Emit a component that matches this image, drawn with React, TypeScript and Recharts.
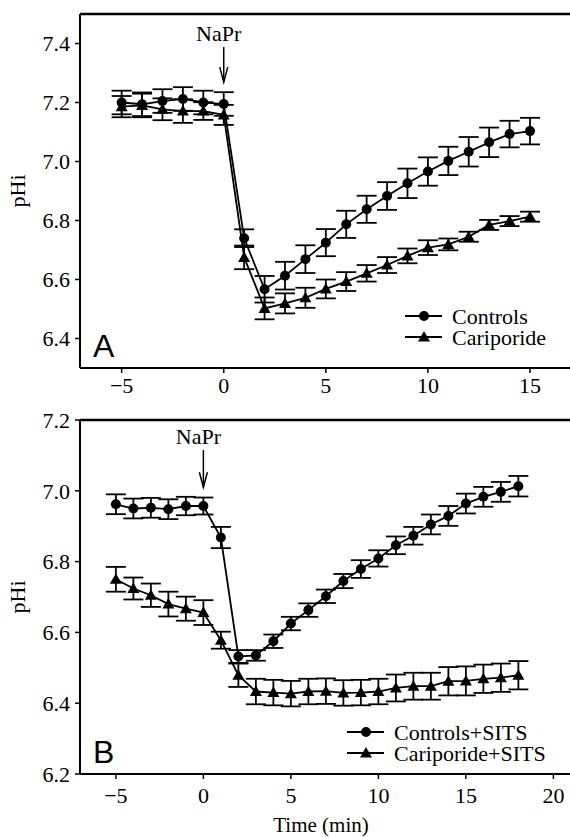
import { LineChart, Line, XAxis, YAxis, ErrorBar, ReferenceLine, Legend } from "recharts";

const FONT = "'Liberation Serif', 'Times New Roman', serif";

// Panel A
const timeA = [-5, -4, -3, -2, -1, 0, 1, 2, 3, 4, 5, 6, 7, 8, 9, 10, 11, 12, 13, 14, 15];
const controlsA = [7.2, 7.194, 7.205, 7.212, 7.2, 7.195, 6.74, 6.567, 6.613, 6.669, 6.725, 6.787, 6.838, 6.883, 6.926, 6.966, 7.002, 7.033, 7.065, 7.093, 7.103];
const controlsAErr = [0.04, 0.04, 0.04, 0.04, 0.04, 0.04, 0.03, 0.045, 0.047, 0.047, 0.046, 0.046, 0.046, 0.047, 0.05, 0.048, 0.048, 0.05, 0.05, 0.045, 0.045];
const cariporideA = [7.186, 7.19, 7.177, 7.171, 7.171, 7.158, 6.675, 6.502, 6.519, 6.538, 6.568, 6.593, 6.621, 6.649, 6.68, 6.708, 6.719, 6.745, 6.785, 6.798, 6.813];
const cariporideAErr = [0.036, 0.04, 0.037, 0.04, 0.03, 0.034, 0.04, 0.037, 0.034, 0.034, 0.032, 0.032, 0.028, 0.027, 0.025, 0.025, 0.02, 0.017, 0.017, 0.017, 0.017];
const xTicksA = [-5, 0, 5, 10, 15];
const yTicksA = [6.4, 6.6, 6.8, 7.0, 7.2, 7.4];

// Panel B
const timeB = [-5, -4, -3, -2, -1, 0, 1, 2, 3, 4, 5, 6, 7, 8, 9, 10, 11, 12, 13, 14, 15, 16, 17, 18];
const controlsB = [6.962, 6.95, 6.952, 6.948, 6.957, 6.957, 6.868, 6.532, 6.535, 6.575, 6.625, 6.663, 6.702, 6.745, 6.779, 6.809, 6.846, 6.873, 6.905, 6.929, 6.964, 6.983, 6.997, 7.013];
const controlsBErr = [0.028, 0.028, 0.028, 0.028, 0.026, 0.024, 0.03, 0.018, 0.015, 0.019, 0.019, 0.019, 0.019, 0.02, 0.025, 0.023, 0.025, 0.025, 0.028, 0.028, 0.028, 0.028, 0.028, 0.029];
const cariporideB = [6.75, 6.724, 6.705, 6.68, 6.667, 6.656, 6.578, 6.479, 6.433, 6.43, 6.427, 6.433, 6.434, 6.429, 6.43, 6.433, 6.443, 6.448, 6.448, 6.462, 6.463, 6.469, 6.472, 6.479];
const cariporideBErr = [0.035, 0.031, 0.033, 0.035, 0.034, 0.035, 0.024, 0.033, 0.036, 0.036, 0.036, 0.036, 0.036, 0.036, 0.036, 0.036, 0.038, 0.038, 0.038, 0.04, 0.041, 0.04, 0.04, 0.04];
const xTicksB = [-5, 0, 5, 10, 15, 20];
const yTicksB = [6.2, 6.4, 6.6, 6.8, 7.0, 7.2];

const dataA = timeA.map((t, i) => ({
  t,
  ctrl: controlsA[i],
  ctrlErr: controlsAErr[i],
  cari: cariporideA[i],
  cariErr: cariporideAErr[i],
}));

const dataB = timeB.map((t, i) => ({
  t,
  ctrl: controlsB[i],
  ctrlErr: controlsBErr[i],
  cari: cariporideB[i],
  cariErr: cariporideBErr[i],
}));

const fmtX = (v: number) => (v < 0 ? `\u2212${Math.abs(v)}` : `${v}`);
const fmtY = (v: number) => v.toFixed(1);

const tickStyle = { fill: "#000", fontSize: 22, fontFamily: FONT };

const triPath = (cx: number, cy: number) =>
  `M${cx},${cy - 6}L${cx + 6},${cy + 4.5}L${cx - 6},${cy + 4.5}Z`;

const TriangleDot = (props: any) => {
  const { cx, cy, index } = props;
  if (cx == null || cy == null) return <g key={index} />;
  return <path key={index} d={triPath(cx, cy)} fill="#000" />;
};

const CircleDot = (props: any) => {
  const { cx, cy, index } = props;
  if (cx == null || cy == null) return <g key={index} />;
  return <circle key={index} cx={cx} cy={cy} r={5} fill="#000" />;
};

// NaPr arrow drawn on a vertical reference segment
const arrowShape = (p: any) => {
  const { x1, y1, y2 } = p;
  const top = Math.min(y1, y2);
  const tip = Math.max(y1, y2);
  return (
    <g>
      <line x1={x1} y1={top} x2={x1} y2={tip} stroke="#000" strokeWidth={1.5} />
      <path
        d={`M${x1 - 4},${tip - 15}L${x1},${tip}L${x1 + 4},${tip - 15}`}
        fill="none"
        stroke="#000"
        strokeWidth={1.5}
      />
      <text x={x1 - 5} y={top - 6} textAnchor="middle" fontFamily={FONT} fontSize={22} fill="#000">
        NaPr
      </text>
    </g>
  );
};

type LegendItem = { label: string; shape: "circle" | "triangle" };

const LegendBox = ({ items, width }: { items: LegendItem[]; width: number }) => (
  <svg width={width} height={48} style={{ display: "block" }}>
    {items.map((it, i) => {
      const cy = 12 + i * 21;
      return (
        <g key={it.label}>
          <line x1={0} y1={cy} x2={37} y2={cy} stroke="#000" strokeWidth={1.8} />
          {it.shape === "circle" ? (
            <circle cx={19} cy={cy} r={5} fill="#000" />
          ) : (
            <path d={triPath(19, cy)} fill="#000" />
          )}
          <text x={47} y={cy} dominantBaseline="central" fontSize={22} fontFamily={FONT} fill="#000">
            {it.label}
          </text>
        </g>
      );
    })}
  </svg>
);

export default function App() {
  return (
    <div style={{ position: "absolute", left: 0, top: 0, width: 570, height: 838, background: "#fff" }}>
      {/* Panel A */}
      <div style={{ position: "absolute", left: 0, top: 0 }}>
        <LineChart width={570} height={400} data={dataA} margin={{ top: 14, right: 0, bottom: 2, left: 0 }}>
          <XAxis
            dataKey="t"
            type="number"
            domain={[-7.04, 16.96]}
            ticks={xTicksA}
            interval={0}
            tickFormatter={fmtX}
            height={30}
            tickSize={5}
            tickMargin={4}
            tick={tickStyle}
            axisLine={{ stroke: "#000", strokeWidth: 2 }}
            tickLine={{ stroke: "#000", strokeWidth: 1.5 }}
          />
          <YAxis
            type="number"
            domain={[6.3, 7.5]}
            ticks={yTicksA}
            interval={0}
            tickFormatter={fmtY}
            width={80}
            tickSize={5}
            tickMargin={5}
            tick={tickStyle}
            axisLine={{ stroke: "#000", strokeWidth: 2 }}
            tickLine={{ stroke: "#000", strokeWidth: 1.5 }}
            label={{
              value: "pHi",
              angle: -90,
              position: "insideLeft",
              offset: 17,
              style: { textAnchor: "middle" },
              fill: "#000",
              fontSize: 22,
              fontFamily: FONT,
            }}
          />
          <ReferenceLine y={7.5} stroke="#000" strokeWidth={2.5} />
          <ReferenceLine
            segment={[
              { x: 0, y: 7.388 },
              { x: 0, y: 7.269 },
            ]}
            shape={arrowShape}
          />
          <Line
            dataKey="cari"
            stroke="#000"
            strokeWidth={1.8}
            dot={TriangleDot}
            activeDot={false}
            isAnimationActive={false}
          >
            <ErrorBar dataKey="cariErr" width={10} stroke="#000" strokeWidth={1.8} />
          </Line>
          <Line
            dataKey="ctrl"
            stroke="#000"
            strokeWidth={1.8}
            dot={CircleDot}
            activeDot={false}
            isAnimationActive={false}
          >
            <ErrorBar dataKey="ctrlErr" width={10} stroke="#000" strokeWidth={1.8} />
          </Line>
          <Legend
            layout="horizontal"
            verticalAlign="middle"
            wrapperStyle={{ left: 405, top: 304, width: "auto" }}
            content={() => (
              <LegendBox
                width={160}
                items={[
                  { label: "Controls", shape: "circle" },
                  { label: "Cariporide", shape: "triangle" },
                ]}
              />
            )}
          />
        </LineChart>
      </div>

      {/* Panel B */}
      <div style={{ position: "absolute", left: 0, top: 400 }}>
        <LineChart width={570} height={438} data={dataB} margin={{ top: 20, right: 0, bottom: 4, left: 0 }}>
          <XAxis
            dataKey="t"
            type="number"
            domain={[-7.05, 20.95]}
            ticks={xTicksB}
            interval={0}
            tickFormatter={fmtX}
            height={60}
            tickSize={5}
            tickMargin={8}
            tick={tickStyle}
            axisLine={{ stroke: "#000", strokeWidth: 2 }}
            tickLine={{ stroke: "#000", strokeWidth: 1.5 }}
            label={{
              value: "Time (min)",
              position: "insideBottom",
              offset: 2,
              dx: -4,
              fill: "#000",
              fontSize: 21,
              fontFamily: FONT,
            }}
          />
          <YAxis
            type="number"
            domain={[6.2, 7.2]}
            ticks={yTicksB}
            interval={0}
            tickFormatter={fmtY}
            width={80}
            tickSize={5}
            tickMargin={5}
            tick={tickStyle}
            axisLine={{ stroke: "#000", strokeWidth: 2 }}
            tickLine={{ stroke: "#000", strokeWidth: 1.5 }}
            label={{
              value: "pHi",
              angle: -90,
              position: "insideLeft",
              offset: 17,
              style: { textAnchor: "middle" },
              fill: "#000",
              fontSize: 22,
              fontFamily: FONT,
            }}
          />
          <ReferenceLine y={7.2} stroke="#000" strokeWidth={2.5} />
          <ReferenceLine
            segment={[
              { x: 0, y: 7.115 },
              { x: 0, y: 7.01 },
            ]}
            shape={arrowShape}
          />
          <Line
            dataKey="cari"
            stroke="#000"
            strokeWidth={1.8}
            dot={TriangleDot}
            activeDot={false}
            isAnimationActive={false}
          >
            <ErrorBar dataKey="cariErr" width={10} stroke="#000" strokeWidth={1.8} />
          </Line>
          <Line
            dataKey="ctrl"
            stroke="#000"
            strokeWidth={1.8}
            dot={CircleDot}
            activeDot={false}
            isAnimationActive={false}
          >
            <ErrorBar dataKey="ctrlErr" width={10} stroke="#000" strokeWidth={1.8} />
          </Line>
          <Legend
            layout="horizontal"
            verticalAlign="middle"
            wrapperStyle={{ left: 347, top: 320, width: "auto" }}
            content={() => (
              <LegendBox
                width={212}
                items={[
                  { label: "Controls+SITS", shape: "circle" },
                  { label: "Cariporide+SITS", shape: "triangle" },
                ]}
              />
            )}
          />
        </LineChart>
      </div>

      {/* panel letters */}
      <svg width={60} height={40} style={{ position: "absolute", left: 85, top: 326 }}>
        <text x={8} y={31} fontFamily="'Liberation Sans', Arial, sans-serif" fontSize={32} fill="#000">
          A
        </text>
      </svg>
      <svg width={60} height={40} style={{ position: "absolute", left: 85, top: 732 }}>
        <text x={8} y={31} fontFamily="'Liberation Sans', Arial, sans-serif" fontSize={32} fill="#000">
          B
        </text>
      </svg>
    </div>
  );
}
